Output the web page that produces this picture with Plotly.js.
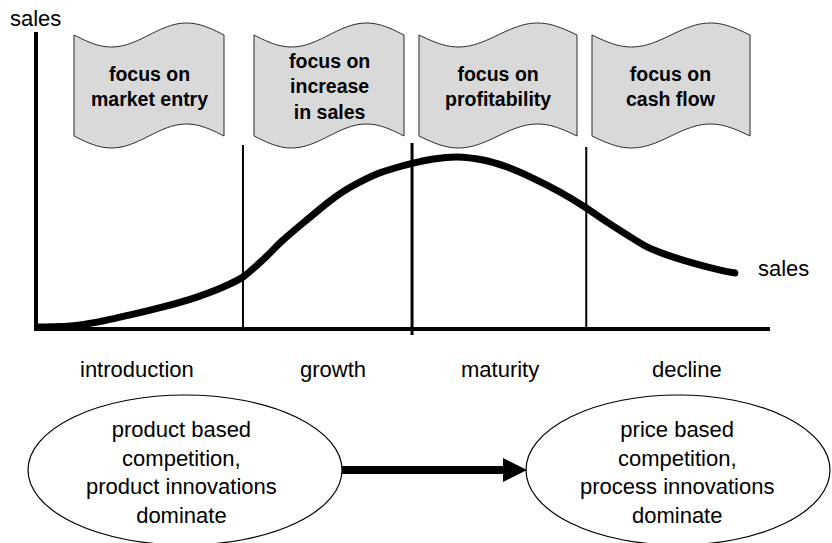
<!DOCTYPE html>
<html>
<head>
<meta charset="utf-8">
<script src="https://cdn.plot.ly/plotly-3.0.1.min.js"></script>
<style>
  html, body { margin: 0; padding: 0; background: #ffffff; }
  #chart { width: 832px; height: 543px; }
</style>
</head>
<body>
<div id="chart"></div>
<script>
// ---------------- DATA ----------------
// time along the life cycle (0..100) and sales level (peak = 100)
const time  = [0, 4.4, 8.1, 12.6, 17.1, 21.7, 25.3, 28.0, 30.7, 33.5, 36.7, 39.9, 42.6, 46.3, 49.0, 51.1,
               54.0, 57.2, 60.8, 64.1, 67.6, 71.3, 74.7, 77.7, 80.5, 83.2, 85.9, 89.5, 93.2, 95.2];
const sales = [0, 0.6, 2.9, 7.1, 11.8, 17.6, 23.5, 29.4, 39.4, 51.2, 62.9, 74.2, 82.0, 90.0, 93.8, 96.2,
               98.8, 100, 98.2, 94.1, 87.6, 79.4, 70.6, 61.8, 54.1, 47.1, 42.4, 37.6, 33.5, 31.8];

const phases      = ["introduction", "growth", "maturity", "decline"];
const phaseBounds = [28, 51.1, 74.9];          // boundaries between phases (time units)
const phaseFocus  = ["focus on<br>market entry", "focus on<br>increase<br>in sales",
                     "focus on<br>profitability", "focus on<br>cash flow"];
const competition = ["product based<br>competition,<br>product innovations<br>dominate",
                     "price based<br>competition,<br>process innovations<br>dominate"];
const axisLabel   = "sales";
const curveLabel  = "sales";

// ---------------- LAYOUT GEOMETRY (pixels) ----------------
const W = 832, H = 543;
const L = 38, R = 770, T = 32, B = 327;        // plot area
const PX = p => (p - L) / (R - L);
const PY = p => (B - p) / (B - T);

const FONT = "Liberation Sans, Arial, Helvetica, sans-serif";
const bannerBoxes = [[74, 224], [254, 404], [419, 577], [592, 750]];
const bannerTopMid = 35, bannerBotMid = 136, bannerAmp = 12;
const dividerTops = [145, 143, 147];
const dividerBottoms = [329, 335, 329];
const dividerWidths = [2, 3, 2];
const phaseLabelX = [137, 333, 500, 687];
const phaseLabelY = 369;
const ellipses = [[28, 342], [526, 830]];
const ellipseTextX = [181, 677];

function bannerPath(x0, x1) {
  const N = 40, w = x1 - x0;
  let d = "";
  for (let i = 0; i <= N; i++) {
    const x = x0 + w * i / N;
    const y = bannerTopMid + bannerAmp * Math.sin(2 * Math.PI * i / N);
    d += (i === 0 ? "M" : "L") + PX(x).toFixed(5) + "," + PY(y).toFixed(5) + " ";
  }
  for (let i = N; i >= 0; i--) {
    const x = x0 + w * i / N;
    const y = bannerBotMid + bannerAmp * Math.sin(2 * Math.PI * i / N);
    d += "L" + PX(x).toFixed(5) + "," + PY(y).toFixed(5) + " ";
  }
  return d + "Z";
}

const shapes = [];
// banners
bannerBoxes.forEach(b => shapes.push({
  type: "path", xref: "paper", yref: "paper", path: bannerPath(b[0], b[1]),
  fillcolor: "#d9d9d9", line: { color: "#2b2b2b", width: 1 }, layer: "above"
}));
// phase dividers
phaseBounds.forEach((t, i) => shapes.push({
  type: "line", xref: "x", yref: "paper", x0: t, x1: t,
  y0: PY(dividerBottoms[i]), y1: PY(dividerTops[i]),
  line: { color: "#000000", width: dividerWidths[i] }, layer: "below"
}));
// ellipses
ellipses.forEach(e => shapes.push({
  type: "circle", xref: "paper", yref: "paper",
  x0: PX(e[0]), x1: PX(e[1]), y0: PY(545), y1: PY(395),
  line: { color: "#000000", width: 1.2 }, fillcolor: "rgba(0,0,0,0)"
}));
// arrow between ellipses
(function () {
  const pts = [[342, 466], [503, 466], [503, 458], [527, 470], [503, 482], [503, 474], [342, 474]];
  const d = pts.map((p, i) => (i ? "L" : "M") + PX(p[0]).toFixed(5) + "," + PY(p[1]).toFixed(5)).join(" ") + " Z";
  shapes.push({ type: "path", xref: "paper", yref: "paper", path: d,
                fillcolor: "#000000", line: { color: "#000000", width: 0 } });
})();

const annotations = [];
annotations.push({ xref: "paper", yref: "paper", x: PX(35), y: PY(18), text: axisLabel,
  showarrow: false, xanchor: "center", yanchor: "middle", font: { family: FONT, size: 22, color: "#000" } });
annotations.push({ xref: "paper", yref: "paper", x: PX(756), y: PY(268), text: curveLabel,
  showarrow: false, xanchor: "left", yanchor: "middle", font: { family: FONT, size: 22, color: "#000" } });
phases.forEach((p, i) => annotations.push({
  xref: "paper", yref: "paper", x: PX(phaseLabelX[i]), y: PY(phaseLabelY), text: p,
  showarrow: false, xanchor: "center", yanchor: "middle", font: { family: FONT, size: 22, color: "#000" }
}));
phaseFocus.forEach((f, i) => annotations.push({
  xref: "paper", yref: "paper", x: PX((bannerBoxes[i][0] + bannerBoxes[i][1]) / 2), y: PY(87),
  text: "<b>" + f + "</b>", showarrow: false, xanchor: "center", yanchor: "middle", align: "center",
  font: { family: FONT, size: 19.5, color: "#000" }
}));
competition.forEach((c, i) => annotations.push({
  xref: "paper", yref: "paper", x: PX(ellipseTextX[i]), y: PY(472), text: c,
  showarrow: false, xanchor: "center", yanchor: "middle", align: "center",
  font: { family: FONT, size: 22, color: "#000" }
}));

const last = time.length - 1;
const data = [
  { x: time, y: sales, mode: "lines", line: { color: "#000000", width: 7, shape: "spline", smoothing: 0.7 },
    hoverinfo: "skip" },
  { x: [time[last]], y: [sales[last]], mode: "markers", marker: { color: "#000000", size: 7 },
    hoverinfo: "skip", cliponaxis: false }
];

const layout = {
  width: W, height: H,
  margin: { l: L, r: W - R, t: T, b: H - B, pad: 0 },
  paper_bgcolor: "#ffffff", plot_bgcolor: "#ffffff",
  showlegend: false, hovermode: false,
  xaxis: { range: [0, 100], showline: true, linewidth: 4, linecolor: "#000000",
           showgrid: false, zeroline: false, ticks: "", showticklabels: false, fixedrange: true },
  yaxis: { range: [0, 173.5], showline: true, linewidth: 4, linecolor: "#000000",
           showgrid: false, zeroline: false, ticks: "", showticklabels: false, fixedrange: true },
  shapes: shapes,
  annotations: annotations,
  font: { family: FONT, color: "#000" }
};

Plotly.newPlot("chart", data, layout, { displayModeBar: false, staticPlot: true });
</script>
</body>
</html>
